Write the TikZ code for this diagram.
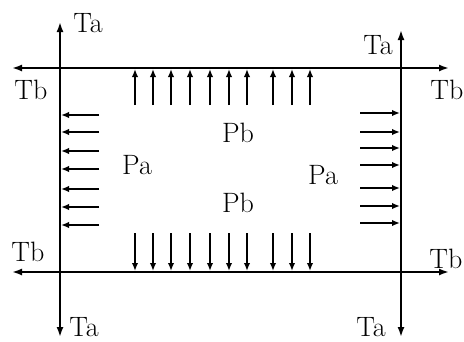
\documentclass[tikz,border=0pt]{standalone}
\usetikzlibrary{arrows.meta}
\begin{document}
\begin{tikzpicture}[x=1pt,y=-1pt,
  main/.style={line width=1.8pt,-{Latex[length=10pt,width=7pt]}},
  small/.style={line width=1.6pt,-{Latex[length=8pt,width=6.5pt]}},
  lbl/.style={inner sep=0pt,font=\fontsize{28}{28}\selectfont}]
\useasboundingbox (0,0) rectangle (464,341);
% frame coordinates
\coordinate (LT) at (60,22);
\coordinate (LB) at (60,337);
\coordinate (RT) at (401,30);
\coordinate (RB) at (401,337);
\coordinate (TL) at (12,68);
\coordinate (TR) at (449,68);
\coordinate (BL) at (12,272);
\coordinate (BR) at (449,272);
\coordinate (L0) at (60,68);
\coordinate (L1) at (60,272);
\coordinate (R0) at (401,68);
\coordinate (R1) at (401,272);
\coordinate (T0) at (230,68);
\coordinate (B0) at (230,272);
% main lines with arrows
\draw[main] (L0) -- (LT);
\draw[main] (L1) -- (LB);
\draw[main] (R0) -- (RT);
\draw[main] (R1) -- (RB);
\draw[main] (T0) -- (TL);
\draw[main] (T0) -- (TR);
\draw[main] (B0) -- (BL);
\draw[main] (B0) -- (BR);
\draw[line width=1.8pt] (L0) -- (L1) (R0) -- (R1);
% Pb arrows (top and bottom)
\foreach \x [count=\i] in {135,153,171,190,210,229,247,273,292,310}{
  \coordinate (ta\i) at (\x,105);
  \coordinate (th\i) at (\x,69);
  \coordinate (ba\i) at (\x,233);
  \coordinate (bh\i) at (\x,271);
  \draw[small] (ta\i) -- (th\i);
  \draw[small] (ba\i) -- (bh\i);
}
% Pa arrows (left)
\foreach \y [count=\i] in {115,132,151,169,189,207,225}{
  \coordinate (la\i) at (99,\y);
  \coordinate (lh\i) at (61,\y);
  \draw[small] (la\i) -- (lh\i);
}
% Pa arrows (right)
\foreach \y [count=\i] in {113,132,148,165,188,206,223}{
  \coordinate (ra\i) at (360,\y);
  \coordinate (rh\i) at (400,\y);
  \draw[small] (ra\i) -- (rh\i);
}
% labels
\node[lbl] (ta1) at (88,23) {Ta};
\node[lbl] (tb1) at (31,90) {Tb};
\node[lbl] (ta2) at (378,45) {Ta};
\node[lbl] (tb2) at (447,90) {Tb};
\node[lbl] (tb3) at (28,252) {Tb};
\node[lbl] (ta3) at (84,327) {Ta};
\node[lbl] (tb4) at (446,259) {Tb};
\node[lbl] (ta4) at (371,327) {Ta};
\node[lbl] (pb1) at (238,133) {Pb};
\node[lbl] (pb2) at (238,203) {Pb};
\node[lbl] (pa1) at (137,165) {Pa};
\node[lbl] (pa2) at (323,175) {Pa};
\end{tikzpicture}
\end{document}
